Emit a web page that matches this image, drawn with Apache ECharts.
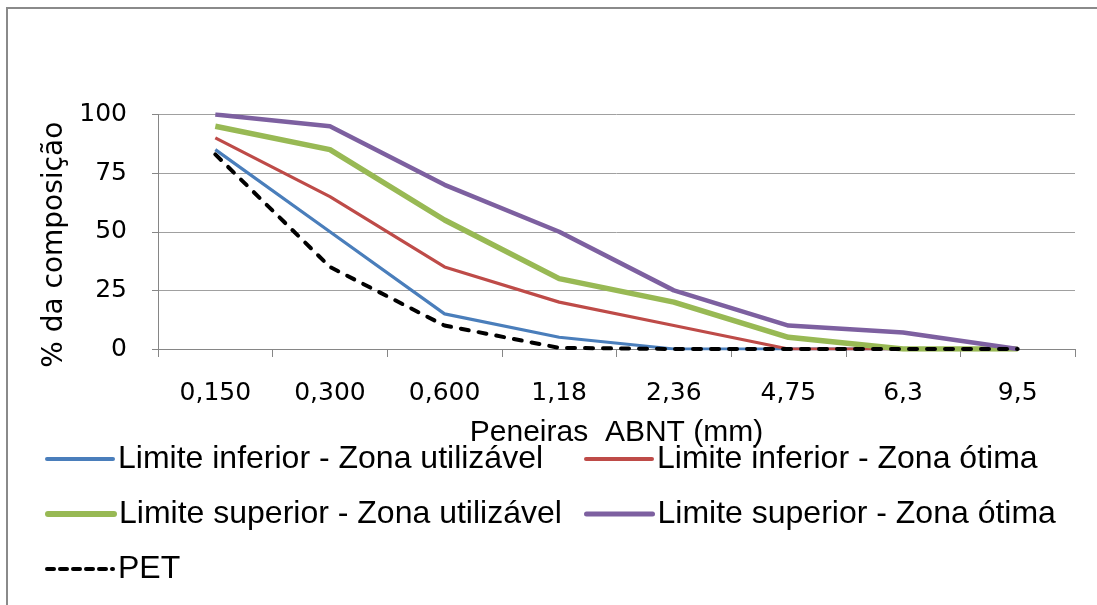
<!DOCTYPE html>
<html>
<head>
<meta charset="utf-8">
<script src="https://cdn.jsdelivr.net/npm/echarts@6/dist/echarts.min.js"></script>
<style>html,body{margin:0;padding:0;background:#fff}#c{width:1097px;height:605px}</style>
</head>
<body>
<div id="c"></div>
<script>
const categories = ['0,150', '0,300', '0,600', '1,18', '2,36', '4,75', '6,3', '9,5'];
const yTicks = [0, 25, 50, 75, 100];
const infUtil = [85, 50, 15, 5, 0, 0, 0, 0];
const infOtima = [90, 65, 35, 20, 10, 0, 0, 0];
const supUtil = [95, 85, 55, 30, 20, 5, 0, 0];
const supOtima = [100, 95, 70, 50, 25, 10, 7, 0];
const pet = [83, 35, 10, 0.5, 0, 0, 0, 0];
const names = ['Limite inferior - Zona utilizável', 'Limite inferior - Zona ótima', 'Limite superior - Zona utilizável', 'Limite superior - Zona ótima', 'PET'];
const colors = ['#4a7ebb', '#be4b48', '#98b954', '#7d60a0', '#000000'];

const chart = echarts.init(document.getElementById('c'), null, {renderer: 'canvas'});
const legendFont = {fontFamily: 'Liberation Sans', fontSize: 32, color: '#000', lineHeight: 32};
function leg(i, left, top, lw, dash) {
  return {data: [names[i]], left: left, top: top, orient: 'horizontal', itemWidth: 66, itemHeight: 14, itemGap: 6,
    padding: 0, textStyle: legendFont, selectedMode: false,
    itemStyle: {opacity: 0},
    lineStyle: {width: lw, color: colors[i], type: dash || 'solid', cap: 'round'}};
}
function line(i, data, width, extra) {
  return Object.assign({name: names[i], type: 'line', data: data, symbol: 'none', showSymbol: false,
    lineStyle: {color: colors[i], width: width}, itemStyle: {color: colors[i]}, animation: false, z: 2}, extra || {});
}
chart.setOption({
  animation: false,
  graphic: [{type: 'rect', shape: {x: 7, y: 8, width: 1300, height: 1000}, style: {fill: 'none', stroke: '#8a8a8a', lineWidth: 2}, silent: true}],
  grid: {left: 158, right: 22, top: 114.5, bottom: 256, containLabel: false},
  legend: [
    leg(0, 45, 443, 4),
    leg(1, 584, 443, 4),
    leg(2, 45, 498, 6),
    leg(3, 584, 498, 5),
    leg(4, 45, 553, 4, [7, 6])
  ],
  xAxis: {
    type: 'category', data: categories, boundaryGap: true,
    name: 'Peneiras  ABNT (mm)', nameLocation: 'middle', nameGap: 69,
    nameTextStyle: {fontFamily: 'Liberation Sans', fontSize: 30, color: '#000'},
    axisLine: {lineStyle: {color: '#868686', width: 1}},
    axisTick: {show: true, alignWithLabel: false, length: 8, lineStyle: {color: '#868686'}},
    axisLabel: {fontFamily: 'DejaVu Sans', fontSize: 25, color: '#000', margin: 32, interval: 0},
    splitLine: {show: false}
  },
  yAxis: {
    type: 'value', min: yTicks[0], max: yTicks[yTicks.length - 1], interval: 25,
    name: '% da composição', nameLocation: 'middle', nameGap: 86, nameRotate: 90,
    nameTextStyle: {fontFamily: 'DejaVu Sans', fontSize: 28, color: '#000', padding: [0, 26, 0, 0]},
    axisLine: {show: true, lineStyle: {color: '#868686', width: 1}},
    axisTick: {show: true, length: 6, inside: false, lineStyle: {color: '#868686'}},
    axisLabel: {fontFamily: 'DejaVu Sans', fontSize: 25, color: '#000', margin: 31},
    splitLine: {show: true, lineStyle: {color: '#a0a0a0', width: 1}}
  },
  series: [
    line(0, infUtil, 3.2),
    line(1, infOtima, 3.2),
    line(2, supUtil, 5.5),
    line(3, supOtima, 4.5),
    line(4, pet, 4, {lineStyle: {color: '#000', width: 4, type: [8, 10], cap: 'round'}, z: 3})
  ]
});
</script>
</body>
</html>
